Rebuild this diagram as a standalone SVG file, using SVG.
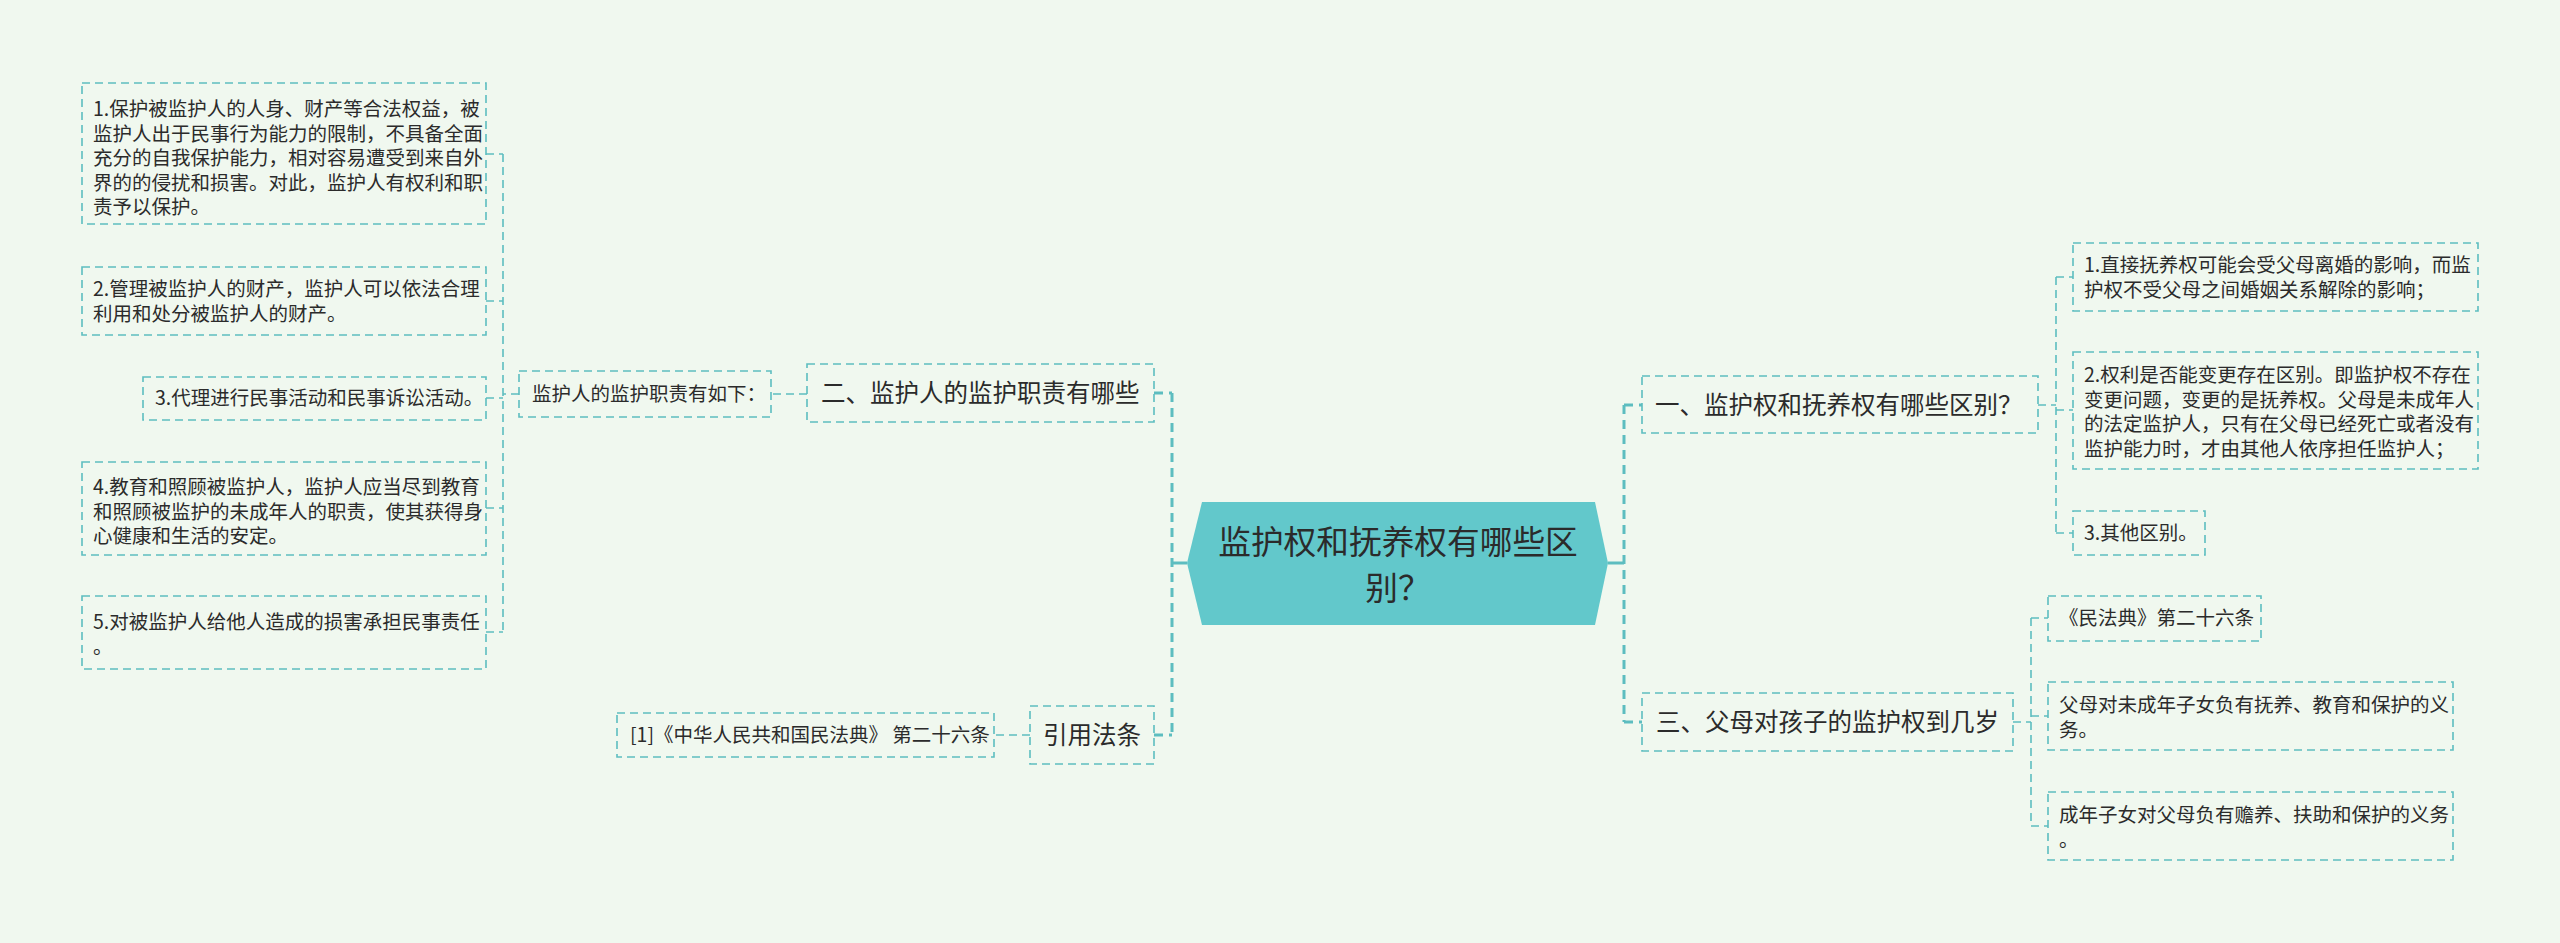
<svg xmlns="http://www.w3.org/2000/svg" width="2560" height="943" viewBox="0 0 2560 943">
<style>
.bg{fill:#f0f8ef}
.box{fill:none;stroke:#5dbdc0;stroke-width:1.6;stroke-dasharray:8 5}
.t{font-family:"Noto Sans CJK SC","Noto Sans",sans-serif;fill:#2b2b2b}
.s{font-size:19.5px}
.m{font-size:24.5px}
.c{font-size:32.7px}
.cn{fill:none;stroke:#5dbdc0;stroke-width:1.6;stroke-dasharray:8 5}
.cnb{fill:none;stroke:#5dbdc0;stroke-width:3;stroke-dasharray:9 6}
.sol{fill:none;stroke:#5dbdc0;stroke-width:3}
</style>
<rect class="bg" x="0" y="0" width="2560" height="943"/>
<g id="connectors">
<path class="sol" d="M1187 563H1172M1608 563H1624"/>
<path class="cnb" d="M1172 393V735M1154 393H1172M1154 735H1172"/>
<path class="cnb" d="M1624 405V722M1624 405H1642M1624 722H1642"/>
<path class="cn" d="M807 394H771M519 394H503M503 154V632M486 154H503M486 301H503M486 398H503M486 508H503M486 632H503"/>
<path class="cn" d="M1030 735H994"/>
<path class="cn" d="M2038 405H2056M2056 277V533M2056 277H2073M2056 410H2073M2056 533H2073"/>
<path class="cn" d="M2013 722H2031M2031 618V826M2031 618H2048M2031 716H2048M2031 826H2048"/>
</g>
<g id="center">
<polygon points="1187,563 1202,502 1595,502 1608,563 1595,625 1202,625" fill="#62c8cb"/>
<text class="t c" x="1398" y="554" text-anchor="middle">监护权和抚养权有哪些区</text>
<text class="t c" x="1398" y="600" text-anchor="middle">别？</text>
</g>
<g id="n-er">
<rect class="box" x="807" y="364" width="347" height="58"/>
<text class="t m" x="821" y="402">二、监护人的监护职责有哪些</text>
</g>
<g id="n-yinyong">
<rect class="box" x="1030" y="706" width="124" height="58"/>
<text class="t m" x="1043" y="744">引用法条</text>
</g>
<g id="n-yi">
<rect class="box" x="1642" y="376" width="396" height="57"/>
<text class="t m" x="1655" y="414">一、监护权和抚养权有哪些区别？</text>
</g>
<g id="n-san">
<rect class="box" x="1642" y="693" width="371" height="58"/>
<text class="t m" x="1656" y="731">三、父母对孩子的监护权到几岁</text>
</g>
<g id="n-zhize">
<rect class="box" x="519" y="371" width="252" height="46"/>
<text class="t s" x="532" y="401">监护人的监护职责有如下：</text>
</g>
<g id="n-l1">
<rect class="box" x="82" y="83" width="404" height="141"/>
<text class="t s" x="93" y="116">1.保护被监护人的人身、财产等合法权益，被</text>
<text class="t s" x="93" y="140.5">监护人出于民事行为能力的限制，不具备全面</text>
<text class="t s" x="93" y="165">充分的自我保护能力，相对容易遭受到来自外</text>
<text class="t s" x="93" y="189.5">界的的侵扰和损害。对此，监护人有权利和职</text>
<text class="t s" x="93" y="214">责予以保护。</text>
</g>
<g id="n-l2">
<rect class="box" x="82" y="267" width="404" height="68"/>
<text class="t s" x="93" y="296">2.管理被监护人的财产，监护人可以依法合理</text>
<text class="t s" x="93" y="320.5">利用和处分被监护人的财产。</text>
</g>
<g id="n-l3">
<rect class="box" x="143" y="377" width="343" height="43"/>
<text class="t s" x="155" y="405">3.代理进行民事活动和民事诉讼活动。</text>
</g>
<g id="n-l4">
<rect class="box" x="82" y="462" width="404" height="93"/>
<text class="t s" x="93" y="494">4.教育和照顾被监护人，监护人应当尽到教育</text>
<text class="t s" x="93" y="518.5">和照顾被监护的未成年人的职责，使其获得身</text>
<text class="t s" x="93" y="543">心健康和生活的安定。</text>
</g>
<g id="n-l5">
<rect class="box" x="82" y="596" width="404" height="73"/>
<text class="t s" x="93" y="629">5.对被监护人给他人造成的损害承担民事责任</text>
<text class="t s" x="93" y="653.5">。</text>
</g>
<g id="n-law">
<rect class="box" x="617" y="713" width="377" height="44"/>
<text class="t s" x="630" y="742">[1]《中华人民共和国民法典》 第二十六条</text>
</g>
<g id="n-r1">
<rect class="box" x="2073" y="243" width="405" height="68"/>
<text class="t s" x="2084" y="272">1.直接抚养权可能会受父母离婚的影响，而监</text>
<text class="t s" x="2084" y="296.5">护权不受父母之间婚姻关系解除的影响；</text>
</g>
<g id="n-r2">
<rect class="box" x="2073" y="352" width="405" height="117"/>
<text class="t s" x="2084" y="382">2.权利是否能变更存在区别。即监护权不存在</text>
<text class="t s" x="2084" y="406.5">变更问题，变更的是抚养权。父母是未成年人</text>
<text class="t s" x="2084" y="431">的法定监护人，只有在父母已经死亡或者没有</text>
<text class="t s" x="2084" y="455.5">监护能力时，才由其他人依序担任监护人；</text>
</g>
<g id="n-r3">
<rect class="box" x="2073" y="511" width="132" height="44"/>
<text class="t s" x="2084" y="540">3.其他区别。</text>
</g>
<g id="n-s1">
<rect class="box" x="2048" y="596" width="213" height="45"/>
<text class="t s" x="2059" y="625">《民法典》第二十六条</text>
</g>
<g id="n-s2">
<rect class="box" x="2048" y="682" width="405" height="68"/>
<text class="t s" x="2059" y="712">父母对未成年子女负有抚养、教育和保护的义</text>
<text class="t s" x="2059" y="736.5">务。</text>
</g>
<g id="n-s3">
<rect class="box" x="2048" y="792" width="405" height="68"/>
<text class="t s" x="2059" y="822">成年子女对父母负有赡养、扶助和保护的义务</text>
<text class="t s" x="2059" y="846.5">。</text>
</g>
</svg>
